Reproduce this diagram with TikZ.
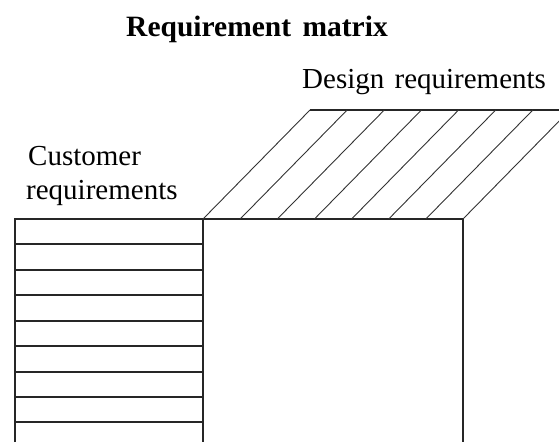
\documentclass[tikz,border=0pt]{standalone}
\usepackage{fontspec}
\setmainfont{Liberation Serif}
\begin{document}
\begin{tikzpicture}[x=1pt,y=-1pt,
  frame/.style={line width=1.5pt,draw=black!85},
  hatch/.style={line width=0.9pt,draw=black!80},
  lbl/.style={inner sep=0pt,anchor=base west,font=\fontsize{29}{34}\selectfont}]
\useasboundingbox (0,0) rectangle (559,442);
% texts
\node[inner sep=0pt,anchor=base,font=\fontsize{29.5}{34}\selectfont\bfseries] (title) at (257,36.5) {Requirement\hspace{4pt} matrix};
\node[lbl] (design) at (302,88) {Design\hspace{3pt} requirements};
\node[lbl] (cust1) at (28,165) {Customer};
\node[lbl] (cust2) at (26,199.5) {requirements};
% customer requirements table
\draw[frame] (15,442) -- (15,219) -- (203,219) -- (203,442);
\foreach \yy in {244,270,295,321,346,372,397,422}
  \draw[frame] (15,\yy) -- (203,\yy);
% main matrix
\draw[frame] (203,219) -- (463,219) -- (463,442);
% design requirements hatch
\begin{scope}
\clip (0,0) rectangle (559,442);
\draw[frame] (310,110) -- (570,110);
\foreach \k in {0,...,7}
  \draw[hatch] (203+37.14*\k,219) -- (310+37.14*\k,110);
\end{scope}
\end{tikzpicture}
\end{document}
